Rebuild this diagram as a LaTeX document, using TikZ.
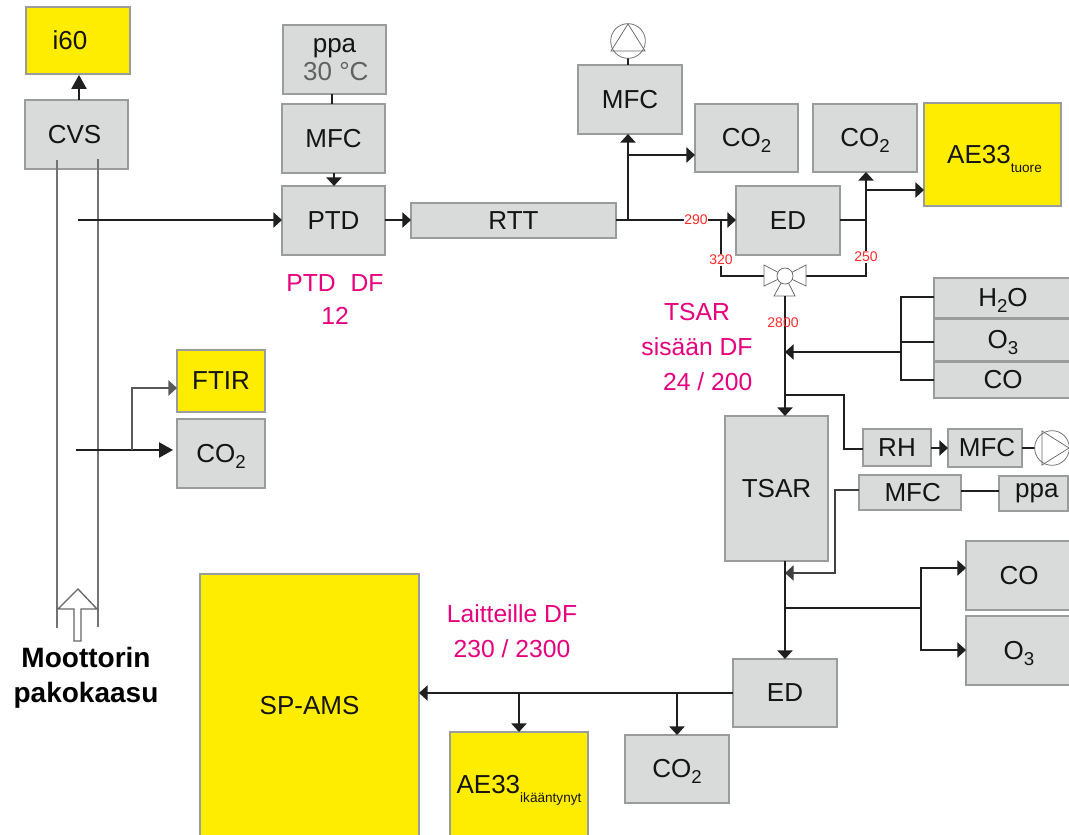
\documentclass[tikz,border=0pt]{standalone}
\usepackage{fontspec}
\setmainfont{Liberation Sans}
\usetikzlibrary{arrows.meta,calc}
\definecolor{boxgray}{HTML}{D9DADA}
\definecolor{boxline}{HTML}{9A9B9B}
\definecolor{boxyellow}{HTML}{FFED00}
\definecolor{pinktxt}{HTML}{E6007E}
\definecolor{redtxt}{HTML}{FF2A2A}
\newcommand{\fs}[1]{\fontsize{#1}{#1}\selectfont}
\newcommand{\lowr}[1]{\smash{\raisebox{-.22em}{\fs{14}#1}}}
\newcommand{\lowtiny}[1]{\smash{\raisebox{-.36em}{\fs{10.2}#1}}}
\newcommand{\bx}[7]{\node[#2, minimum width={(#5-#3)*0.75pt}, minimum height={(#6-#4)*0.75pt}] (#1) at ({(#3+#5)/2},{(#4+#6)/2}) {#7};}
\tikzset{
  base/.style={draw=boxline, line width=1pt, inner sep=0pt, outer sep=0pt, font=\fs{19.5}, align=center, text=black!92},
  gbox/.style={base, fill=boxgray},
  ybox/.style={base, fill=boxyellow},
  flow/.style={line width=1.15pt, black!88},
  arr/.style={flow, -{Triangle[length=6.5pt,width=11.5pt]}},
  bigarr/.style={flow, -{Triangle[length=10.5pt,width=11.5pt]}},
  thin line/.style={line width=1.1pt, black!65},
  pipe/.style={line width=1.2pt, black!55},
  pumpline/.style={line width=.55pt, black!60},
  pinklbl/.style={font=\fs{18.5}, text=pinktxt, align=center, inner sep=0pt, outer sep=0pt},
  redlbl/.style={font=\fs{10.5}, text=redtxt, inner sep=.6pt, outer sep=0pt, fill=white},
  boldlbl/.style={font=\bfseries\fs{21}, align=center, inner sep=0pt, outer sep=0pt, text=black},
}
\begin{document}
\begin{tikzpicture}[x=0.75pt,y=-0.75pt]
\useasboundingbox (0,0) rectangle (1069,834);
\clip (0,0) rectangle (1069,834);
% boxes
\bx{ififtysix}{ybox}{26}{7}{130}{74}{i60\hspace{12pt}}
\bx{cvs}{gbox}{25}{100}{128}{169}{CVS\hspace{3pt}}
\bx{ppa}{gbox}{283}{25}{386}{94}{ppa\hspace{4pt}\\[1.5pt]\hspace{2pt}{\color{black!62}30 °C}}
\bx{mfca}{gbox}{282}{104}{385}{173}{MFC}
\bx{ptd}{gbox}{282}{186}{385}{255}{PTD}
\bx{rtt}{gbox}{411}{203}{616}{238}{RTT}
\bx{mfcb}{gbox}{578}{65}{682}{134}{MFC}
\bx{coa}{gbox}{695}{104}{798}{172}{CO\lowr{2}}
\bx{cob}{gbox}{813}{104}{917}{172}{CO\lowr{2}}
\bx{aefresh}{ybox}{924}{103}{1061}{206}{\hspace{3pt}AE33\lowtiny{tuore}}
\bx{eda}{gbox}{736}{186}{840}{255}{ED}
\bx{water}{gbox}{934}{278}{1072}{318}{H\lowr{2}O}
\bx{ozone}{gbox}{934}{319}{1072}{361}{O\lowr{3}}
\bx{coin}{gbox}{934}{362}{1072}{398}{CO}
\bx{tsar}{gbox}{725}{416}{828}{561}{TSAR}
\bx{rh}{gbox}{863}{429}{931}{466}{RH}
\bx{mfcc}{gbox}{948}{429}{1022}{467}{\hspace{3pt}MFC}
\bx{mfcd}{gbox}{859}{475}{961}{510}{\hspace{4pt}MFC}
\bx{ppb}{gbox}{999}{476}{1068}{511}{\raisebox{-4pt}{\hspace{5pt}ppa}}
\bx{coc}{gbox}{966}{541}{1072}{610}{CO}
\bx{ozb}{gbox}{966}{616}{1072}{685}{O\lowr{3}}
\bx{edb}{gbox}{733}{659}{837}{727}{ED}
\bx{spams}{ybox}{200}{574}{419}{838}{SP-AMS}
\bx{aeaged}{ybox}{450}{732}{588}{838}{\raisebox{1.5pt}{AE33\lowtiny{ikääntynyt}}}
\bx{cod}{gbox}{625}{735}{729}{803}{CO\lowr{2}}
\bx{ftir}{ybox}{177}{350}{265}{412}{FTIR}
\bx{coe}{gbox}{177}{419}{265}{488}{CO\lowr{2}}
% exhaust duct
\coordinate (ductla) at (57,160);
\coordinate (ductlb) at (57,628);
\coordinate (ductra) at (98,159);
\coordinate (ductrb) at (98,627);
\draw[pipe] (ductla) -- (ductlb);
\draw[pipe] (ductra) -- (ductrb);
\draw[line width=1pt, black!60, fill=white] (78,589) -- (97,609) -- (81,609) -- (81,641) -- (74,641) -- (74,609) -- (58,609) -- cycle;
% top left
\draw[bigarr] (79,100) -- (79,75);
\coordinate (sampa) at (78,220);
\draw[arr] (sampa) -- (sampa -| ptd.west);
\draw[flow] (ppa.south -| 332,0) -- (mfca.north -| 332,0);
\draw[arr] (334,173) -- (334,186);
\draw[arr] (ptd.east |- 0,220) -- (rtt.west |- 0,220);
% top right branch
\coordinate (jA) at (628,220);
\coordinate (jB) at (628,155);
\coordinate (jC) at (721,220);
\coordinate (jD) at (866,220);
\coordinate (jE) at (866,190);
\coordinate (valve) at (785,276);
\draw[arr] (rtt.east |- jA) -- (eda.west |- jA);
\draw[arr] (jA) -- (jA |- mfcb.south);
\draw[arr] (jB) -- (jB -| coa.west);
\draw[flow] (eda.east |- jD) -- (jD);
\draw[flow] (jC) |- (764,276);
\draw[flow] (806,276) -| (jD);
\draw[arr] (jD) -- (jD |- cob.south);
\draw[arr] (jE) -- (jE -| aefresh.west);
% top pump
\draw[flow] (628,58) -- (mfcb.north -| 628,0);
\node[draw=black!55, line width=.6pt, circle, minimum size=26pt, inner sep=0pt, outer sep=0pt] (pumpa) at (628,41) {};
\draw[pumpline] (628,24) -- (611,51) -- (645,51) -- cycle;
% valve
\draw[pumpline, fill=white] (764,265) -- (764,286) -- (785,276) -- cycle;
\draw[pumpline, fill=white] (806,265) -- (806,286) -- (785,276) -- cycle;
\draw[pumpline, fill=white] (785,276) -- (774,296) -- (795,296) -- cycle;
\node[draw=black!60, line width=.55pt, fill=white, circle, minimum size=12pt, inner sep=0pt] (valvec) at (valve) {};
% TSAR inlet
\coordinate (vout) at (785,296);
\coordinate (jF) at (785,352);
\coordinate (jG) at (785,395);
\coordinate (jH) at (901,352);
\draw[arr] (vout) -- (vout |- tsar.north);
\draw[arr] (jH) -- (jF);
\draw[flow] (water.west |- 0,297) -| (jH |- coin.west) -- (coin.west);
\draw[flow] (ozone.west |- 0,342) -- (jH |- 0,342);
\draw[flow] (jG) -| (844,449) -- (rh.west |- 0,449);
\draw[arr] (rh.east |- 0,448) -- (mfcc.west |- 0,448);
\draw[flow] (mfcc.east |- 0,448) -- (1035,448);
\node[draw=black!55, line width=.6pt, circle, minimum size=26pt, inner sep=0pt, outer sep=0pt] (pumpb) at (1052,448) {};
\draw[pumpline] (1069,448) -- (1042,431) -- (1042,465) -- cycle;
% ppa into reactor outlet
\draw[flow] (mfcd.east |- 0,491) -- (ppb.west |- 0,491);
\coordinate (jI) at (785,573);
\draw[arr, line width=.9pt, black!75] (mfcd.west |- 0,490) -| (835,573) -- (jI);
% below TSAR
\coordinate (jJ) at (785,608);
\coordinate (jK) at (921,608);
\draw[arr] (tsar.south -| jJ) -- (jJ |- edb.north);
\draw[flow] (jJ) -- (jK);
\draw[arr] (jK) |- (coc.west |- 0,568);
\draw[arr] (jK) |- (ozb.west |- 0,650);
% bottom line
\coordinate (jL) at (519,693);
\coordinate (jM) at (677,693);
\draw[arr] (edb.west |- jL) -- (spams.east |- jL);
\draw[arr] (jL) -- (jL |- aeaged.north);
\draw[arr] (jM) -- (jM |- cod.north);
% FTIR
\coordinate (sampb) at (76,450);
\coordinate (jN) at (132,450);
\coordinate (ftirend) at (173,450);
\draw[bigarr] (sampb) -- (ftirend);
\draw[thin line, -{Triangle[length=6.5pt,width=11.5pt]}] (jN) |- (ftir.west |- 0,388);
% labels
\node[pinklbl] (lptd) at (335,299.5) {PTD\hspace{6pt} DF\\[6.5pt]12\hspace{8pt}};
\node[pinklbl] (ltsar) at (697,347) {TSAR\\[7.5pt]sisään DF\\[7.5pt]\hspace{16pt}24 / 200};
\node[pinklbl] (llait) at (512,631) {Laitteille DF\\[7.5pt]230 / 2300};
\node[boldlbl] (lmoot) at (86,678) {Moottorin\\[5pt]pakokaasu};
\node[redlbl] (r290) at (696,220) {290};
\node[redlbl] (r320) at (721,260) {320};
\node[redlbl] (r250) at (866,257) {250};
\node[redlbl, fill=none] (r2800) at (783,323) {2800};
\end{tikzpicture}
\end{document}
